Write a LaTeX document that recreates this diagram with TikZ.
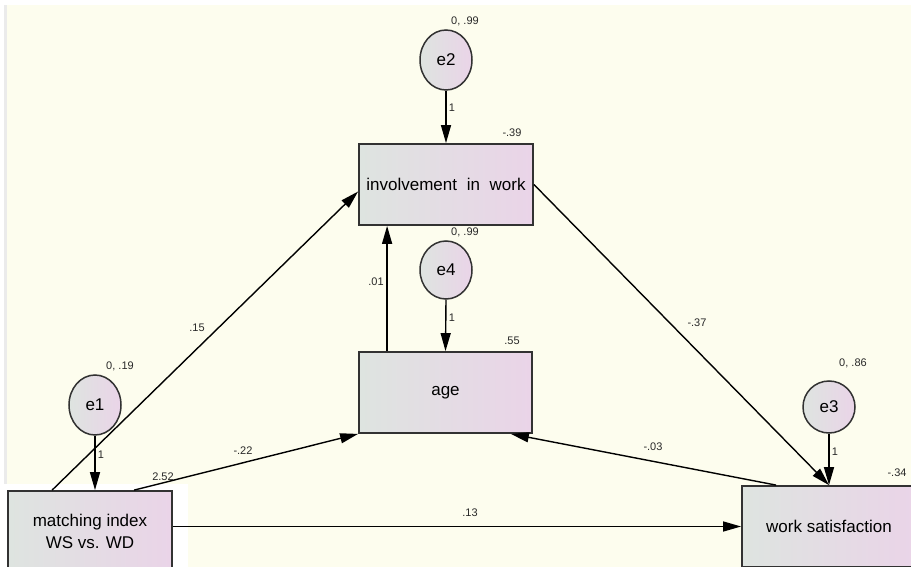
\documentclass[tikz,border=0pt]{standalone}
\usepackage{fontspec}
\setmainfont{Liberation Sans}
\usetikzlibrary{arrows.meta,shapes.geometric,calc}
\definecolor{bg}{RGB}{253,253,238}
\definecolor{gL}{RGB}{222,228,224}
\definecolor{gR}{RGB}{234,212,232}
\definecolor{edgec}{RGB}{50,50,50}
\definecolor{lab}{RGB}{40,40,40}
\begin{document}
\begin{tikzpicture}[x=1pt,y=-1pt,
 box/.style={draw=edgec, line width=1.8pt, left color=gL, right color=gR, rectangle, inner sep=0pt,
   minimum width=174pt, minimum height=81pt, font=\fontsize{17}{22}\selectfont, align=center},
 err/.style={draw=edgec, line width=1.5pt, ellipse, left color=gL, right color=gR, inner sep=0pt,
   minimum width=52pt, minimum height=60pt, font=\fontsize{17}{20}\selectfont},
 arr/.style={-{Triangle[length=18pt,width=10pt]}, line width=1.4pt, draw=black},
 lbl/.style={font=\fontsize{11}{13}\selectfont, text=lab, inner sep=0pt}
]
\useasboundingbox (0,0) rectangle (911,567);
\fill[white] (0,0) rectangle (911,567);
\fill[bg] (7,5) rectangle (911,567);
\fill[black!8] (4,5) rectangle (7,567);
\fill[white] (0,484) rectangle (188,567);

% labels hidden partly behind boxes
\node[lbl] (l4) at (465,232) {0, .99};

% nodes
\node[err] (e2) at (446,60) {e2};
\node[box] (inv) at (446,184.5) {involvement\hspace{5pt} in\hspace{5pt} work};
\node[err, minimum height=58pt] (e4) at (446,270) {e4};
\node[box, minimum width=173pt] (age) at (445.5,392.5) {age};
\node[err] (e1) at (95,405) {e1};
\node[box, minimum width=164pt] (match) at (90,531.5) {matching index\\WS vs. WD};
\node[err, minimum height=52pt] (e3) at (829,407) {e3};
\node[box] (ws) at (829,526.5) {work satisfaction};

% connectors
\draw[arr] (e2.south) -- (inv.north);
\draw[arr] (e4.south) -- (age.north);
\draw[arr] ($(age.north west)+(29,0)$) -- ($(inv.south west)+(29,0)$);
\draw[arr] (e1.south) -- (e1.south |- match.north);
\draw[arr] ($(match.north west)+(45,0)$) -- ($(inv.west)+(0,7)$);
\draw[arr] ($(match.north west)+(127,0)$) -- (age.south west);
\draw[arr] (match.east |- ws.west) -- (ws.west);
\draw[arr] (inv.east) -- (ws.north);
\draw[arr] (e3.south) -- (ws.north);
\draw[arr] ($(ws.north west)+(35,0)$) -- ($(age.south east)+(-22,0)$);

% labels
\node[lbl] (l2) at (465,21) {0, .99};
\node[lbl] (linv) at (512,133) {-.39};
\node[lbl] (a2) at (452,108) {1};
\node[lbl] (a01) at (376,282) {.01};
\node[lbl] (a4) at (452,318) {1};
\node[lbl] (lage) at (512,341) {.55};
\node[lbl] (l1) at (120,366) {0, .19};
\node[lbl] (a1) at (101,455) {1};
\node[lbl] (a15) at (197,328) {.15};
\node[lbl] (a22) at (243,451) {-.22};
\node[lbl] (lm) at (163,477) {2.52};
\node[lbl] (a13) at (470,513) {.13};
\node[lbl] (a37) at (697,323) {-.37};
\node[lbl] (a03) at (653,447) {-.03};
\node[lbl] (l3) at (853,363) {0, .86};
\node[lbl] (a3) at (835,452) {1};
\node[lbl] (lws) at (897,473) {-.34};
\end{tikzpicture}
\end{document}
